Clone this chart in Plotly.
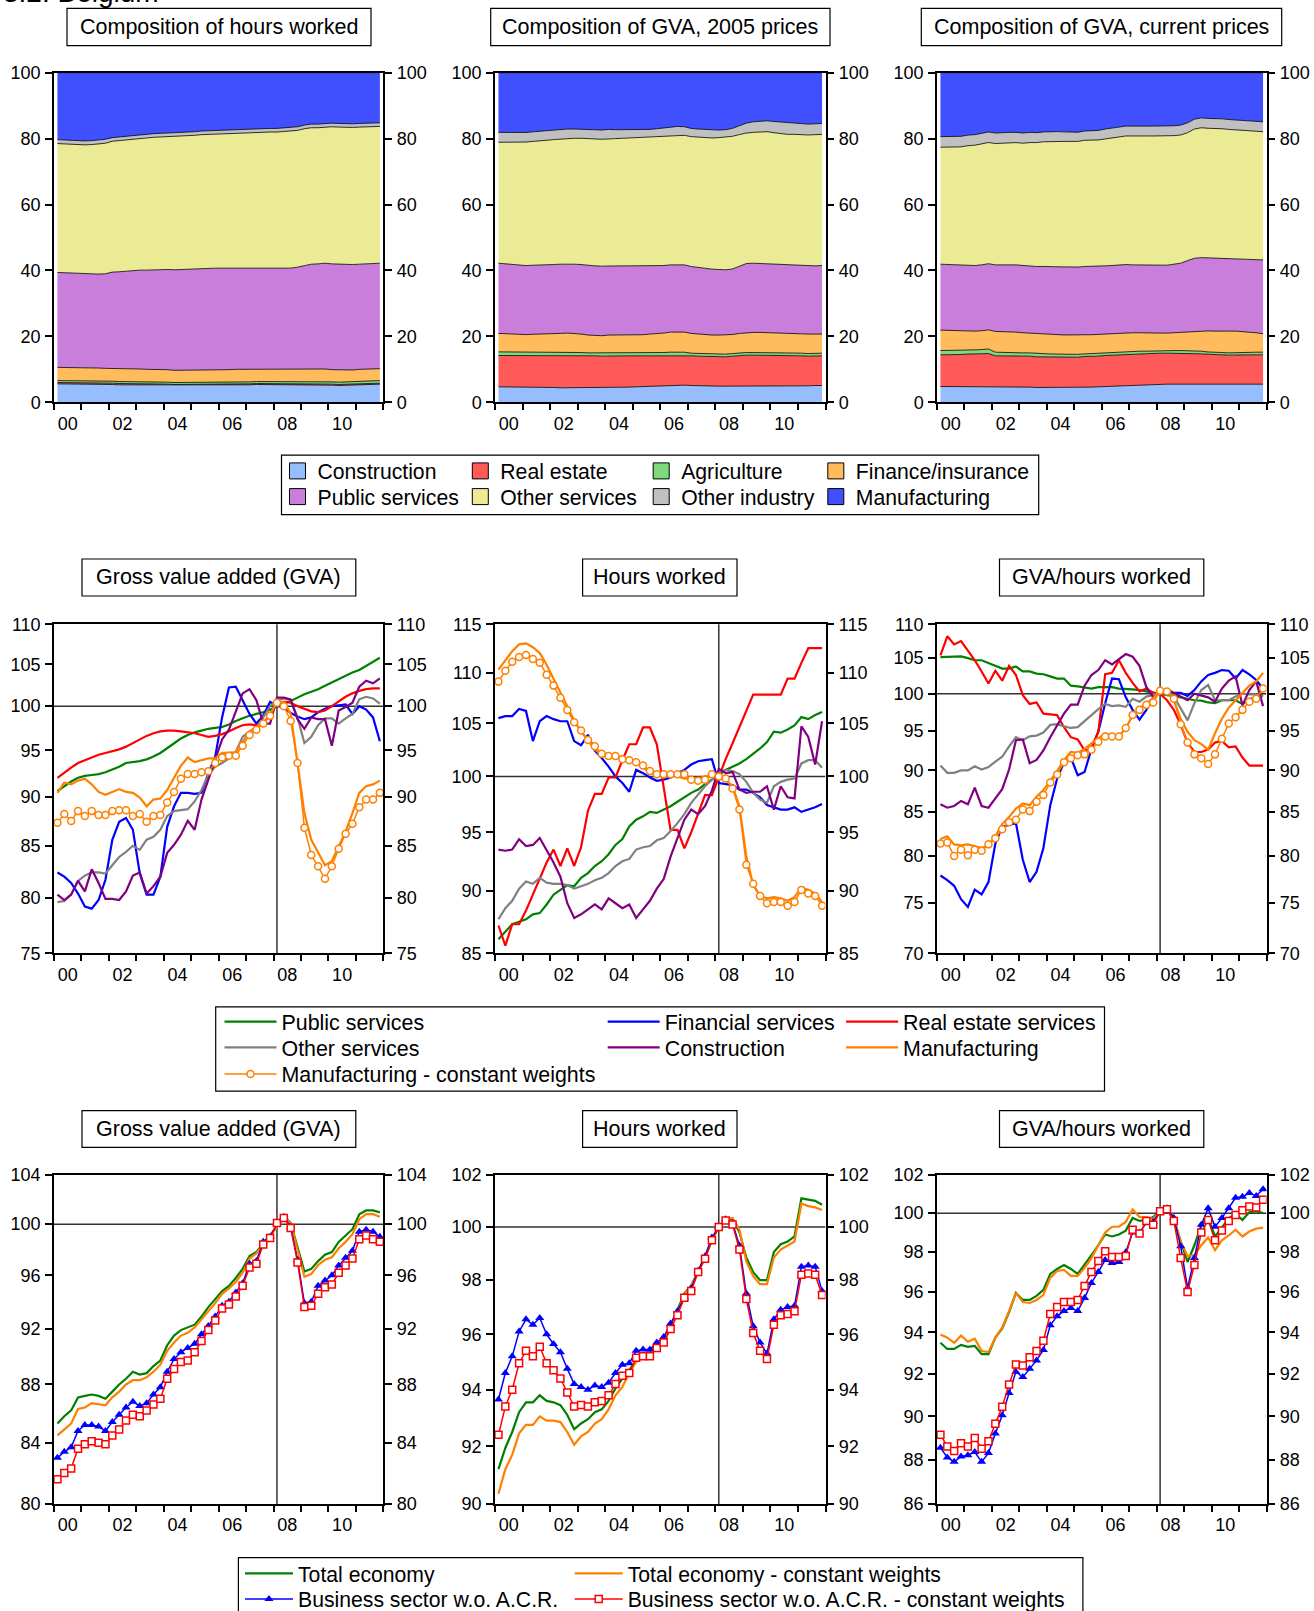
import math
import plotly.graph_objects as go

W, H = 1314, 1611
FONT = "Liberation Sans, Arial, Helvetica, sans-serif"

# ---------------------------------------------------------------- data
quarters = [f"{y}Q{q}" for y in range(2000, 2012) for q in range(1, 5)]
year_tick_labels = ["00", "02", "04", "06", "08", "10"]
year_tick_years = [2000, 2002, 2004, 2006, 2008, 2010]
BASE_QUARTER = "2008Q1"
BASE_VALUE = 100

SECTORS = ["Construction", "Real estate", "Agriculture", "Finance/insurance",
           "Public services", "Other services", "Other industry", "Manufacturing"]

# Composition of hours worked (shares, %)
hrs_construction = [5.6,5.6,5.6,5.5, 5.5,5.5,5.5,5.4, 5.4,5.3,5.3,5.3, 5.3,5.2,5.2,5.2, 5.2,5.1,5.1,5.1, 5.1,5.2,5.2,5.2,
                    5.3,5.3,5.3,5.3, 5.3,5.4,5.4,5.4, 5.4,5.4,5.4,5.4, 5.4,5.4,5.3,5.3, 5.2,5.1,5.2,5.2, 5.3,5.4,5.4,5.5]
hrs_realestate = [0.4,0.4,0.4,0.4, 0.4,0.4,0.4,0.4, 0.4,0.4,0.4,0.4, 0.4,0.4,0.4,0.4, 0.3,0.3,0.3,0.3, 0.3,0.3,0.3,0.3,
                  0.3,0.3,0.3,0.3, 0.3,0.3,0.3,0.3, 0.3,0.3,0.3,0.3, 0.3,0.3,0.3,0.3, 0.3,0.3,0.3,0.3, 0.3,0.3,0.3,0.3]
hrs_agriculture = [0.6,0.6,0.6,0.6, 0.6,0.6,0.6,0.6, 0.6,0.6,0.6,0.6, 0.6,0.6,0.6,0.6, 0.6,0.6,0.6,0.6, 0.6,0.6,0.6,0.6,
                   0.6,0.6,0.6,0.6, 0.6,0.6,0.6,0.6, 0.6,0.6,0.6,0.6, 0.7,0.7,0.7,0.7, 0.7,0.7,0.7,0.7, 0.8,0.8,0.8,0.8]
hrs_finance = [4.0,4.0,4.0,4.0, 4.0,4.0,3.9,3.9, 3.9,3.9,3.9,3.8, 3.8,3.8,3.8,3.8, 3.8,3.7,3.7,3.7, 3.7,3.7,3.7,3.7,
               3.7,3.7,3.8,3.8, 3.8,3.8,3.8,3.8, 3.8,3.8,3.8,3.8, 3.8,3.8,3.8,3.8, 3.7,3.7,3.6,3.6, 3.6,3.6,3.6,3.6]
hrs_public = [28.8,28.7,28.6,28.5, 28.4,28.4,28.5,28.7, 29.2,29.4,29.6,29.8, 30.0,30.1,30.2,30.3, 30.4,30.5,30.6,30.7,
              30.8,30.9,30.9,30.9, 30.8,30.8,30.7,30.7, 30.6,30.6,30.5,30.5, 30.4,30.5,30.6,30.9, 31.3,31.7,31.9,32.1,
              32.1,32.1,32.0,32.0, 31.9,31.9,32.0,32.0]
hrs_othserv = [39.1,39.1,39.0,39.1, 39.2,39.3,39.5,39.6, 39.7,39.8,40.0,40.0, 40.1,40.1,40.2,40.2, 40.3,40.3,40.4,40.4,
               40.5,40.5,40.6,40.6, 40.7,40.8,40.9,41.0, 41.1,41.2,41.3,41.4, 41.5,41.5,41.6,41.5, 41.5,41.4,41.3,41.3,
               41.6,41.6,41.6,41.6, 41.6,41.6,41.5,41.5]
hrs_othind = [1.2,1.2,1.2,1.2, 1.2,1.2,1.2,1.2, 1.1,1.1,1.1,1.1, 1.1,1.1,1.1,1.1, 1.1,1.1,1.1,1.1, 1.1,1.1,1.1,1.1,
              1.1,1.1,1.1,1.1, 1.1,1.1,1.1,1.1, 1.1,1.1,1.1,1.1, 1.1,1.1,1.1,1.1, 1.1,1.1,1.1,1.1, 1.1,1.1,1.1,1.1]
hrs_manuf = [20.3,20.4,20.6,20.7, 20.7,20.6,20.4,20.2, 19.7,19.5,19.1,19.0, 18.7,18.7,18.5,18.4, 18.3,18.4,18.2,18.1,
             17.9,17.7,17.6,17.6, 17.5,17.4,17.3,17.2, 17.2,17.0,17.0,16.9, 16.9,16.8,16.6,16.4, 15.9,15.6,15.6,15.4,
             15.3,15.4,15.5,15.5, 15.4,15.3,15.3,15.2]

# Composition of GVA, 2005 prices
gvr_construction = [4.7,4.7,4.7,4.7, 4.6,4.6,4.6,4.5, 4.5,4.4,4.4,4.4, 4.4,4.5,4.4,4.4, 4.5,4.5,4.6,4.6, 4.7,4.8,4.9,5.0,
                    5.1,5.2,5.2,5.2, 5.1,5.0,5.0,4.9, 4.9,4.9,4.9,5.0, 5.0,5.0,5.0,4.9, 4.9,4.9,5.0,5.0, 5.0,5.0,5.1,5.1]
gvr_realestate = [9.5,9.5,9.5,9.5, 9.5,9.6,9.6,9.6, 9.6,9.7,9.7,9.7, 9.7,9.6,9.7,9.6, 9.6,9.5,9.5,9.5, 9.4,9.3,9.3,9.2,
                  9.1,9.1,9.1,9.1, 9.0,9.0,8.9,8.9, 8.9,8.9,9.1,9.2, 9.3,9.3,9.3,9.3, 9.2,9.2,9.1,9.1, 9.1,9.0,9.0,9.0]
gvr_agriculture = [1.1,1.1,1.1,1.1, 1.0,1.0,1.0,1.0, 1.0,1.0,1.0,1.0, 1.0,0.9,0.9,0.9, 0.9,0.9,0.9,0.9, 0.9,0.9,0.9,0.9,
                   0.9,0.9,0.9,0.9, 0.8,0.8,0.8,0.8, 0.8,0.8,0.8,0.8, 0.8,0.8,0.8,0.8, 0.8,0.8,0.8,0.8, 0.8,0.8,0.8,0.8]
gvr_finance = [5.6,5.5,5.4,5.4, 5.4,5.4,5.5,5.6, 5.7,5.8,5.9,5.8, 5.6,5.4,5.3,5.3, 5.4,5.5,5.5,5.5, 5.5,5.5,5.6,5.7,
               5.9,6.1,6.2,6.1, 6.0,5.9,5.9,5.8, 5.8,5.8,5.8,5.9, 6.0,6.1,6.1,6.1, 6.1,6.1,6.0,6.0, 5.9,5.9,5.8,5.8]
gvr_public = [21.3,21.2,21.1,21.0, 20.9,20.9,20.9,21.0, 21.0,21.0,21.0,21.0, 21.1,21.1,21.1,21.1, 21.0,21.0,20.9,20.9,
              20.9,20.8,20.7,20.6, 20.5,20.4,20.4,20.4, 20.3,20.2,20.1,20.0, 19.9,19.8,19.9,20.4, 21.0,21.0,20.9,20.9,
              20.8,20.8,20.7,20.7, 20.6,20.6,20.7,20.8]
gvr_othserv = [36.7,36.9,37.1,37.3, 37.4,37.5,37.6,37.8, 37.9,38.0,38.1,38.2, 38.3,38.4,38.5,38.5, 38.6,38.6,38.7,38.8,
               38.9,39.0,39.0,39.1, 39.1,39.2,39.2,39.3, 39.4,39.5,39.7,39.8, 40.0,40.2,40.3,40.0, 39.6,39.7,39.9,40.1,
               40.0,39.8,39.7,39.7, 39.7,39.8,39.8,39.8]
gvr_othind = [3.0,3.0,2.9,2.9, 2.9,2.9,2.8,2.8, 2.8,2.8,2.8,2.8, 2.8,2.8,2.8,2.8, 2.8,2.7,2.6,2.5, 2.3,2.3,2.4,2.5,
              2.6,2.7,2.7,2.6, 2.5,2.5,2.4,2.4, 2.3,2.3,2.4,2.7, 3.0,3.2,3.3,3.3, 3.4,3.5,3.5,3.4, 3.4,3.3,3.3,3.3]
gvr_manuf = [18.1,18.1,18.2,18.1, 18.1,17.9,17.7,17.7, 17.5,17.3,17.1,17.1, 17.1,17.3,17.3,17.4, 17.2,17.3,17.3,17.3,
             17.4,17.4,17.2,17.0, 16.8,16.4,16.3,16.4, 16.9,17.1,17.2,17.4, 17.4,17.3,16.9,16.1, 15.3,14.9,14.7,14.6,
             14.8,15.0,15.2,15.3, 15.5,15.6,15.5,15.4]

# Composition of GVA, current prices
gvc_construction = [4.8,4.8,4.8,4.8, 4.8,4.8,4.7,4.7, 4.6,4.6,4.6,4.6, 4.6,4.6,4.5,4.5, 4.5,4.5,4.5,4.5, 4.5,4.6,4.6,4.7,
                    4.8,4.9,5.0,5.1, 5.1,5.2,5.3,5.4, 5.5,5.5,5.5,5.5, 5.5,5.5,5.4,5.4, 5.3,5.3,5.3,5.4, 5.4,5.5,5.5,5.5]
gvc_realestate = [9.6,9.6,9.7,9.7, 9.8,9.9,10.0,10.1, 9.5,9.5,9.5,9.5, 9.4,9.4,9.3,9.3, 9.2,9.2,9.2,9.2, 9.2,9.3,9.3,9.3,
                  9.4,9.4,9.5,9.5, 9.5,9.5,9.4,9.4, 9.4,9.4,9.4,9.4, 9.4,9.3,9.3,9.2, 9.1,9.1,9.0,9.0, 9.0,8.9,8.9,8.9]
gvc_agriculture = [1.3,1.3,1.2,1.2, 1.2,1.2,1.3,1.4, 1.1,1.0,1.0,1.0, 1.0,1.0,1.0,1.0, 1.0,0.9,0.9,0.9, 0.9,0.8,0.8,0.8,
                   0.8,0.8,0.8,0.8, 0.8,0.8,0.8,0.8, 0.8,0.8,0.8,0.8, 0.8,0.8,0.8,0.7, 0.7,0.7,0.7,0.7, 0.8,0.8,0.8,0.8]
gvc_finance = [6.2,6.1,6.0,5.9, 5.8,5.7,5.7,5.8, 6.3,6.4,6.3,6.2, 6.1,6.0,5.9,5.9, 5.9,5.9,5.9,5.9, 5.8,5.8,5.8,5.8,
               5.8,5.8,5.8,5.8, 5.7,5.6,5.5,5.4, 5.3,5.3,5.4,5.6, 5.8,6.0,6.2,6.4, 6.5,6.6,6.6,6.5, 6.3,6.1,5.9,5.6]
gvc_public = [20.0,20.0,19.9,19.9, 19.9,19.9,20.0,20.1, 20.2,20.3,20.3,20.4, 20.4,20.5,20.5,20.6, 20.6,20.7,20.7,20.7,
              20.7,20.7,20.7,20.6, 20.6,20.6,20.6,20.6, 20.6,20.6,20.5,20.5, 20.5,20.6,20.8,20.9, 21.5,22.1,22.2,22.2,
              22.2,22.1,22.0,22.0, 22.0,22.1,22.2,22.4]
gvc_othserv = [35.5,35.6,35.8,36.0, 36.2,36.5,36.7,36.8, 36.8,36.9,37.0,37.1, 37.1,37.3,37.6,37.9, 38.1,38.1,38.2,38.2,
               38.2,38.3,38.3,38.4, 38.5,38.7,38.8,39.0, 39.1,39.2,39.3,39.3, 39.3,39.2,39.0,38.9, 38.8,39.2,39.4,39.4,
               39.3,39.2,39.2,39.1, 39.0,39.0,38.9,38.9]
gvc_othind = [3.2,3.2,3.2,3.2, 3.2,3.2,3.2,3.2, 3.2,3.2,3.2,3.1, 3.1,3.1,3.0,3.0, 3.0,3.0,2.9,2.9, 2.8,2.8,2.9,2.9,
              3.0,3.0,3.0,3.0, 3.0,3.0,3.0,3.0, 3.0,3.0,3.0,3.0, 3.0,3.0,3.0,3.0, 3.0,3.0,3.0,3.0, 3.0,3.0,3.0,3.0]
gvc_manuf = [19.4,19.4,19.4,19.3, 18.9,18.8,18.4,18.0, 18.3,18.1,18.1,18.1, 18.3,18.1,18.2,18.0, 17.9,17.9,18.0,18.0,
             18.1,17.7,17.6,17.5, 17.1,16.8,16.5,16.2, 16.2,16.1,16.2,16.2, 16.2,16.2,16.1,15.9, 15.2,14.1,13.7,13.9,
             13.9,14.0,14.2,14.3, 14.5,14.6,14.8,14.9]

# Sector indices, 2008 = 100 (log scale)
SECTOR_SERIES = ["Public services", "Financial services", "Real estate services", "Other services",
                 "Construction", "Manufacturing", "Manufacturing - constant weights"]
gva_public = [90.6,91.1,91.6,92.0, 92.2,92.3,92.4,92.6, 92.9,93.2,93.6,93.7, 93.8,94.0,94.3,94.7, 95.2,95.8,96.3,96.7,
              97.0,97.2,97.4,97.5, 97.6,97.9,98.3,98.6, 98.9,99.1,99.3,99.6, 100.0,100.3,100.6,101.0, 101.4,101.7,102.0,102.4,
              102.8,103.2,103.6,104.0, 104.3,104.8,105.4,105.8]
gva_financial = [82.4,82.0,81.4,80.4, 79.2,79.0,79.8,81.7, 85.6,87.4,87.8,86.6, 82.3,80.3,80.3,82.0, 86.9,89.0,90.4,90.4,
                 90.3,90.4,92.5,94.3, 98.7,102.2,102.3,100.7, 99.1,98.0,98.9,100.5, 100.0,99.9,99.2,98.8, 98.5,98.7,99.3,99.7,
                 100.0,100.1,100.2,99.1, 100.0,99.6,98.7,96.0]
gva_realestate = [92.0,92.6,93.1,93.6, 93.9,94.2,94.5,94.7, 94.9,95.1,95.4,95.8, 96.2,96.6,96.9,97.1, 97.2,97.2,97.1,97.0,
                  96.9,96.7,96.5,96.6, 96.8,97.1,97.5,97.8, 97.9,97.8,98.0,99.0, 100.3,100.5,100.4,100.0, 99.7,99.4,99.3,99.5,
                  100.0,100.6,101.1,101.5, 101.8,102.0,102.1,102.1]
gva_othserv = [79.6,79.7,80.3,81.6, 82.1,82.4,82.4,82.3, 83.1,83.9,84.4,85.0, 84.6,85.6,85.9,86.6, 88.0,88.5,88.6,88.7,
               89.5,90.7,92.3,93.2, 93.6,94.1,94.8,96.5, 97.1,97.4,98.7,100.0, 100.7,100.9,100.7,98.7, 95.8,96.5,97.8,98.6,
               98.6,98.0,98.6,99.1, 100.8,101.1,100.9,100.3]
gva_construction = [80.3,79.8,80.3,81.6, 80.6,82.7,81.4,79.9, 79.9,79.8,80.6,82.1, 82.4,80.4,81.1,82.0, 84.3,85.1,86.1,87.5,
                    86.6,89.7,91.8,94.1, 96.2,97.3,99.5,101.5, 102.0,100.7,98.0,98.0, 101.0,101.0,100.8,98.5, 97.4,98.7,98.5,98.5,
                    95.5,99.5,99.9,100.4, 102.3,103.0,102.7,103.3]
gva_manuf = [90.4,91.5,91.3,91.7, 91.9,91.3,90.5,90.2, 90.5,90.8,90.5,90.4, 89.9,89.0,89.7,89.8, 90.7,92.0,93.3,94.2,
             93.7,93.9,94.1,94.1, 94.7,94.7,94.8,95.9, 97.1,97.6,98.1,99.1, 100.5,100.5,99.1,93.6, 88.3,85.6,84.3,83.1,
             83.5,84.9,86.4,88.3, 90.4,91.1,91.3,91.7]
gva_manuf_cw = [87.3,88.2,87.5,88.5, 88.0,88.5,88.1,88.1, 88.5,88.6,88.6,88.0, 88.2,87.4,88.0,88.1, 89.4,90.5,91.9,92.4,
                92.4,92.6,92.7,93.6, 94.2,94.4,94.4,95.5, 96.7,97.3,98.0,98.9, 100.4,100.0,98.3,93.6, 86.8,84.1,83.0,81.8,
                83.0,84.7,86.2,87.2, 88.9,89.7,89.7,90.4]

hrs_idx_public = [86.1,86.7,87.3,87.5, 87.7,88.1,88.2,88.9, 89.7,90.1,90.5,90.4, 91.1,91.5,92.1,92.5, 93.1,93.9,94.4,95.5,
                  96.1,96.4,96.8,96.7, 97.0,97.3,97.7,98.1, 98.5,98.8,99.3,99.7, 100.1,100.6,100.9,101.2, 101.6,102.1,102.6,103.2,
                  104.2,104.1,104.4,104.8, 105.6,105.4,105.8,106.1]
hrs_idx_financial = [105.5,105.7,105.7,106.4, 106.2,103.3,105.2,105.7, 105.4,105.2,105.2,103.3, 102.9,103.9,102.4,101.7,
                     100.9,100.0,99.4,98.6, 100.6,100.3,99.9,99.6, 99.7,99.9,100.3,100.6, 101.1,101.4,101.5,101.6,
                     99.4,99.3,99.2,98.8, 98.8,98.5,98.1,97.4, 97.2,97.0,97.0,97.2, 96.8,97.0,97.2,97.5]
hrs_idx_realestate = [87.2,85.6,87.3,87.3, 88.4,89.7,91.1,92.4, 93.5,92.1,93.6,92.1, 93.7,96.9,98.4,98.4, 99.9,99.9,101.5,103.0,
                      103.0,104.6,104.6,103.0, 99.0,95.2,95.2,93.6, 95.0,96.6,98.3,98.3, 100.0,101.6,103.1,104.7,
                      106.2,107.8,107.8,107.8, 107.8,107.8,109.4,109.4, 111.0,112.5,112.5,112.5]
hrs_idx_othserv = [87.7,88.6,89.2,90.2, 90.8,90.6,91.1,90.7, 90.6,90.6,90.5,90.2, 90.4,90.6,90.9,91.1, 91.5,92.1,92.5,92.7,
                   93.5,93.7,93.8,94.3, 94.5,95.1,95.8,96.6, 97.6,98.4,99.1,99.7, 100.4,100.6,100.5,100.2, 99.5,98.5,97.9,97.6,
                   99.1,99.5,99.7,99.8, 101.2,101.5,101.5,100.8]
hrs_idx_construction = [93.5,93.4,93.5,94.4, 93.8,93.9,94.5,93.5, 92.4,91.2,89.0,87.8, 88.1,88.5,88.9,88.5, 89.4,89.0,88.6,88.9,
                        87.8,88.5,89.2,90.2, 91.0,92.9,94.4,96.1, 97.0,96.6,97.3,98.7, 100.7,100.3,100.4,98.8, 98.5,98.6,98.6,99.1,
                        97.0,99.1,98.1,98.0, 104.7,103.7,101.1,105.2]
hrs_idx_manuf = [110.3,111.3,112.2,112.9, 113.0,112.6,112.0,110.8, 109.4,108.0,106.6,105.3, 104.2,103.3,102.5,102.0,
                 102.0,101.9,101.7,101.6, 101.3,100.8,100.4,100.3, 100.2,100.2,100.0,99.8, 99.8,99.8,100.0,100.1,
                 100.0,99.7,99.1,97.3, 92.9,90.5,89.6,89.4, 89.5,89.4,89.2,89.5, 90.3,90.1,89.8,89.1]
hrs_idx_manuf_cw = [109.1,110.2,111.1,111.6, 111.8,111.4,111.0,109.8, 108.7,107.5,106.3,105.1, 104.3,103.4,102.8,102.1,
                    101.9,101.9,101.6,101.5, 101.3,101.0,100.5,100.2, 100.2,100.2,100.2,100.2, 99.7,99.6,99.7,100.2,
                    100.0,99.8,98.9,97.0, 92.2,90.6,89.6,89.0, 89.1,89.1,88.8,89.1, 90.1,89.8,89.6,88.8]

prd_public = [105.15,105.15,105.15,105.25, 105.0,104.7,104.7,104.3, 103.8,103.5,103.5,103.8, 103.1,103.1,102.8,102.7,
              102.4,102.1,102.1,101.1, 101.0,100.8,100.7,100.9, 100.9,100.9,100.7,100.7, 100.6,100.5,100.3,100.1,
              99.9,99.8,99.7,99.5, 99.3,99.1,99.05,98.8, 98.7,99.1,99.1,99.1, 98.6,99.2,99.6,99.8]
prd_financial = [77.9,77.4,76.8,75.4, 74.6,76.4,75.9,77.2, 81.4,83.3,83.5,83.7, 79.6,77.2,78.3,80.9, 85.8,89.0,91.0,91.6,
                 89.4,89.8,92.7,94.9, 98.7,102.1,102.0,99.5, 97.8,96.5,97.8,99.5, 100.3,100.4,100.1,100.1, 99.7,100.5,101.7,102.6,
                 102.9,103.3,103.2,102.1, 103.3,102.7,101.9,100.7]
prd_realestate = [105.4,108.2,107.0,107.5, 106.1,104.7,103.1,101.4, 103.2,101.8,103.9,102.6, 99.8,98.6,98.8,97.3,
                  97.2,97.1,95.5,94.2, 93.9,92.5,92.8,94.9, 102.7,102.9,104.7,102.9, 101.5,100.3,100.7,100.1,
                  100.0,99.1,97.8,95.8, 93.5,92.3,92.3,92.6, 93.5,93.7,92.9,93.0, 91.6,90.6,90.6,90.6]
prd_othserv = [90.6,89.7,89.7,90.0, 90.0,90.5,90.1,90.4, 91.1,91.7,93.0,94.2, 93.8,94.3,94.4,94.8, 95.8,95.9,95.6,95.4,
               95.5,96.3,97.2,97.9, 98.6,98.3,98.4,98.2, 99.3,98.9,99.6,99.8, 100.1,100.6,99.6,98.0, 96.4,98.7,100.5,101.2,
               99.1,99.1,99.1,99.6, 100.0,99.9,99.9,99.6]
prd_construction = [85.9,85.5,85.7,86.3, 85.9,87.9,85.7,85.5, 86.6,87.7,90.1,93.8, 93.9,90.9,91.3,92.5, 94.2,95.8,97.3,98.5,
                    98.5,101.1,102.6,103.3, 104.7,104.1,104.9,105.6, 105.2,103.9,100.9,99.5, 100.1,100.6,100.1,99.6,
                    99.1,100.0,99.8,99.5, 98.9,100.7,101.8,102.4, 98.4,100.5,101.7,98.3]
prd_manuf = [81.9,82.2,81.3,81.2, 81.3,81.1,80.9,81.2, 82.2,83.6,84.4,85.4, 86.0,85.8,86.8,87.6, 88.8,89.9,91.3,92.3,
             92.2,92.7,93.4,94.0, 94.7,94.4,94.4,95.3, 97.1,98.0,98.7,99.4, 100.5,100.4,99.1,96.6, 94.9,93.8,93.3,92.6,
             94.7,96.6,98.1,99.1, 100.1,101.1,101.7,102.9]
prd_manuf_cw = [81.4,81.5,80.0,80.7, 80.1,80.7,80.6,81.3, 82.0,83.0,83.8,84.1, 85.3,85.1,86.2,87.0, 88.5,89.5,91.0,91.5,
                91.9,92.0,92.6,93.6, 94.3,94.3,94.3,95.4, 97.1,97.8,98.5,98.8, 100.4,100.3,99.3,95.9, 93.5,92.0,91.5,90.8,
                92.0,94.0,96.0,96.8, 97.8,98.9,99.3,100.7]

# Aggregates, 2008 = 100 (log scale)
AGG_SERIES = ["Total economy", "Total economy - constant weights",
              "Business sector w.o. A.C.R.", "Business sector w.o. A.C.R. - constant weights"]
tot_gva = [85.3,85.8,86.2,87.1, 87.2,87.3,87.2,87.0, 87.5,88.0,88.4,88.9, 88.7,88.8,89.3,89.7, 90.8,91.5,91.9,92.1,
           92.3,92.9,93.6,94.2, 94.8,95.2,95.8,96.5, 97.5,97.8,98.5,99.1, 99.9,100.6,100.1,98.1, 96.3,96.5,97.1,97.6,
           97.8,98.6,99.1,99.6, 100.8,101.1,101.1,100.95]
tot_cw_gva = [84.5,84.9,85.3,86.3, 86.4,86.7,86.6,86.55, 87.1,87.5,88.0,88.3, 88.3,88.5,88.9,89.4, 90.4,91.0,91.5,91.7,
              92.1,92.7,93.3,93.9, 94.6,95.0,95.5,96.2, 97.3,97.7,98.4,99.0, 99.8,100.5,100.1,97.9, 95.9,96.1,96.8,97.2,
              97.4,98.1,98.6,99.2, 100.4,100.8,100.8,100.6]
bus_gva = [83.0,83.4,83.7,84.8, 85.2,85.2,85.1,84.8, 85.4,85.9,86.4,86.8, 86.5,86.7,87.3,87.8, 88.9,89.8,90.3,90.6,
           90.9,91.6,92.2,92.9, 93.7,94.0,94.7,95.4, 96.9,97.1,98.6,99.0, 100.0,100.6,99.8,97.2, 93.9,94.0,95.2,95.6,
           96.0,96.75,97.35,97.9, 99.4,99.55,99.4,99.0]
bus_cw_gva = [81.6,82.0,82.3,83.6, 83.9,84.1,84.0,83.9, 84.5,84.9,85.5,85.9, 85.8,86.2,86.6,87.0, 88.4,89.1,89.6,89.7,
              90.3,91.1,91.9,92.6, 93.5,93.8,94.4,95.2, 96.6,96.9,98.4,98.9, 100.1,100.5,99.7,97.0, 93.6,93.7,94.6,95.1,
              95.3,96.2,96.75,97.3, 98.8,99.1,98.8,98.6]
tot_hrs = [91.2,91.94,92.5,93.2, 93.55,93.55,93.8,93.6, 93.55,93.45,93.1,92.6, 92.8,92.95,93.2,93.3, 93.6,94.05,94.4,94.7,
           95.05,95.3,95.35,95.6, 95.8,96.3,96.9,97.5, 97.8,98.3,98.85,99.5, 100.0,100.3,100.3,99.8, 98.85,98.3,98.0,98.0,
           99.05,99.35,99.45,99.65, 101.1,101.05,101.0,100.85]
tot_cw_hrs = [90.35,91.2,91.7,92.45, 92.75,92.75,93.05,92.9, 92.9,92.85,92.5,92.05, 92.35,92.5,92.8,92.95, 93.3,93.8,94.1,94.6,
              95.0,95.2,95.3,95.5, 95.7,96.25,96.8,97.45, 97.8,98.3,98.85,99.5, 100.0,100.3,100.35,99.9, 98.7,98.15,97.85,97.85,
              98.85,99.15,99.3,99.45, 100.9,100.8,100.75,100.65]
bus_hrs = [93.65,94.6,95.2,96.1, 96.55,96.35,96.6,96.0, 95.65,95.35,94.75,94.2, 94.1,94.0,94.15,94.1, 94.25,94.6,94.9,94.95,
           95.4,95.45,95.45,95.7, 95.9,96.4,96.85,97.35, 97.7,98.35,98.9,99.6, 100.0,100.3,100.15,99.3, 97.5,96.3,95.7,95.3,
           96.55,96.9,97.0,97.05, 98.5,98.55,98.5,97.6]
bus_cw_hrs = [92.4,93.4,94.0,94.95, 95.4,95.2,95.55,94.95, 94.7,94.4,93.9,93.4, 93.45,93.4,93.55,93.6, 93.8,94.2,94.5,94.6,
              95.15,95.2,95.2,95.5, 95.7,96.2,96.7,97.35, 97.6,98.3,98.8,99.5, 100.0,100.25,100.1,99.15, 97.3,96.05,95.4,95.1,
              96.35,96.7,96.75,96.85, 98.2,98.25,98.2,97.45]
tot_prd = [93.5,93.2,93.2,93.4, 93.3,93.35,92.95,92.95, 93.75,94.2,95.0,95.95, 95.6,95.6,95.8,96.1, 96.9,97.15,97.35,97.15,
           96.9,97.35,97.85,98.35, 98.9,98.8,98.9,99.1, 99.75,99.6,99.65,99.8, 100.1,100.2,99.65,98.55, 97.5,98.35,99.4,99.75,
           98.8,99.25,99.75,99.95, 99.65,100.05,100.1,100.0]
tot_cw_prd = [93.9,93.75,93.5,93.85, 93.55,93.7,93.1,93.05, 93.75,94.25,95.05,95.95, 95.5,95.45,95.6,95.85, 96.7,97.05,97.1,96.8,
              96.8,97.2,97.7,98.35, 99.0,99.3,99.3,99.55, 100.2,99.8,99.8,99.7, 100.1,100.2,99.8,98.55, 97.8,97.85,98.35,98.75,
              98.1,98.6,98.85,99.15, 98.8,99.05,99.2,99.25]
bus_prd = [88.55,88.1,87.9,88.15, 88.2,88.35,87.9,88.3, 89.2,90.05,91.1,92.1, 91.85,92.25,92.65,93.15, 94.35,94.8,95.05,95.2,
           95.05,95.7,96.45,97.0, 97.6,97.45,97.5,98.0, 99.0,99.0,99.5,99.55, 100.1,100.25,99.75,98.3, 96.2,97.7,99.4,100.25,
           99.3,99.75,100.25,100.8, 100.85,101.05,100.9,101.25]
bus_cw_prd = [89.15,88.6,88.4,88.75, 88.6,89.0,88.5,88.85, 89.65,90.45,91.5,92.45, 92.4,92.8,93.1,93.6, 94.9,95.25,95.5,95.5,
              95.6,96.3,97.0,97.55, 98.05,97.75,97.75,97.8, 99.15,98.95,99.6,99.4, 100.1,100.2,99.6,97.7, 96.0,97.35,99.0,99.65,
              98.6,99.1,99.6,99.9, 100.15,100.35,100.3,100.7]

TITLES = ["Composition of hours worked", "Composition of GVA, 2005 prices", "Composition of GVA, current prices",
          "Gross value added (GVA)", "Hours worked", "GVA/hours worked",
          "Gross value added (GVA)", "Hours worked", "GVA/hours worked"]

# y-axis ranges and tick values per panel
Y_RANGES = [(0, 100), (0, 100), (0, 100), (75, 110), (85, 115), (70, 110), (80, 104), (90, 102), (86, 102)]
Y_TICKS = [[0, 20, 40, 60, 80, 100]] * 3 + [
    [75, 80, 85, 90, 95, 100, 105, 110], [85, 90, 95, 100, 105, 110, 115], [70, 75, 80, 85, 90, 95, 100, 105, 110],
    [80, 84, 88, 92, 96, 100, 104], [90, 92, 94, 96, 98, 100, 102], [86, 88, 90, 92, 94, 96, 98, 100, 102]]

# ---------------------------------------------------------------- styles
SECTOR_COLORS = ["#96BEFF", "#FF5A5A", "#7ED87E", "#FFBB5C", "#C87EDA", "#EBEB96", "#C0C0C0", "#4050FF"]
SERIES_COLORS = ["#008000", "#0000FF", "#FF0000", "#808080", "#800080", "#FF8000", "#FF8000"]
AGG_COLORS = ["#008000", "#FF8000", "#0000FF", "#FF0000"]

COLS = [(54.0, 383.3), (495.0, 825.5), (937.0, 1266.5)]
ROWS = [(72.7, 402.3), (624.3, 953.3), (1175.0, 1504.0)]
TITLE_BOX_X = [[(67.0, 371.0), (490.7, 830.0), (921.3, 1281.7)],
               [(82.0, 355.8), (582.6, 737.0), (999.5, 1203.8)],
               [(82.0, 355.8), (582.6, 737.0), (999.5, 1203.8)]]
TITLE_BOX_Y = [(8.3, 45.7), (559.0, 596.0), (1110.6, 1147.3)]


def qx(label):
    return int(label[:4]) + (int(label[-1]) - 0.5) / 4


def fx(p):
    return p / W


def fy(p):
    return 1 - p / H


xq = [qx(q) for q in quarters]
base_x = qx(BASE_QUARTER)


def xn(k):
    return "x" if k == 0 else f"x{k+1}"


def yn(k):
    return "y" if k == 0 else f"y{k+1}"


def legid(n):
    return "legend" if n == 0 else f"legend{n+1}"


fig = go.Figure()

# ---------------- stacked area panels
area_sets = [
    [hrs_construction, hrs_realestate, hrs_agriculture, hrs_finance, hrs_public, hrs_othserv, hrs_othind, hrs_manuf],
    [gvr_construction, gvr_realestate, gvr_agriculture, gvr_finance, gvr_public, gvr_othserv, gvr_othind, gvr_manuf],
    [gvc_construction, gvc_realestate, gvc_agriculture, gvc_finance, gvc_public, gvc_othserv, gvc_othind, gvc_manuf],
]
for k, shares in enumerate(area_sets):
    for j, vals in enumerate(shares):
        fig.add_trace(go.Scatter(
            x=xq, y=vals, name=SECTORS[j], mode="lines", stackgroup=f"s{k}",
            groupnorm="percent" if j == 0 else None,
            line=dict(color="black", width=0.8), fillcolor=SECTOR_COLORS[j],
            xaxis=xn(k), yaxis=yn(k), showlegend=False, hoverinfo="skip"))

# legend entries (square swatches) for the sectors
for j, name in enumerate(SECTORS):
    fig.add_trace(go.Scatter(
        x=[None], y=[None], mode="markers", name=name,
        marker=dict(symbol="square", size=16, color=SECTOR_COLORS[j], line=dict(color="black", width=1)),
        xaxis="x", yaxis="y", legend=legid(j), showlegend=True, hoverinfo="skip"))

# ---------------- sector index panels
sector_panels = [
    [gva_public, hrs_idx_public, prd_public],
    [gva_financial, hrs_idx_financial, prd_financial],
    [gva_realestate, hrs_idx_realestate, prd_realestate],
    [gva_othserv, hrs_idx_othserv, prd_othserv],
    [gva_construction, hrs_idx_construction, prd_construction],
    [gva_manuf, hrs_idx_manuf, prd_manuf],
    [gva_manuf_cw, hrs_idx_manuf_cw, prd_manuf_cw],
]
for j, panels in enumerate(sector_panels):
    for p, vals in enumerate(panels):
        k = 3 + p
        tr = dict(x=xq, y=vals, name=SECTOR_SERIES[j], xaxis=xn(k), yaxis=yn(k),
                  line=dict(color=SERIES_COLORS[j], width=2.2), legend=legid(8 + j),
                  showlegend=(p == 0), hoverinfo="skip")
        if j == 6:
            tr["mode"] = "lines+markers"
            tr["line"] = dict(color=SERIES_COLORS[j], width=1.5)
            tr["marker"] = dict(symbol="circle", size=7, color="white",
                                line=dict(color=SERIES_COLORS[j], width=1.5))
        else:
            tr["mode"] = "lines"
        fig.add_trace(go.Scatter(**tr))

# ---------------- aggregate panels
agg_panels = [
    [tot_gva, tot_hrs, tot_prd],
    [tot_cw_gva, tot_cw_hrs, tot_cw_prd],
    [bus_gva, bus_hrs, bus_prd],
    [bus_cw_gva, bus_cw_hrs, bus_cw_prd],
]
for j, panels in enumerate(agg_panels):
    for p, vals in enumerate(panels):
        k = 6 + p
        tr = dict(x=xq, y=vals, name=AGG_SERIES[j], xaxis=xn(k), yaxis=yn(k),
                  legend=legid(15 + j), showlegend=(p == 0), hoverinfo="skip")
        if j < 2:
            tr["mode"] = "lines"
            tr["line"] = dict(color=AGG_COLORS[j], width=2.2)
        elif j == 2:
            tr["mode"] = "lines+markers"
            tr["line"] = dict(color=AGG_COLORS[j], width=1.5)
            tr["marker"] = dict(symbol="triangle-up", size=8, color=AGG_COLORS[j])
        else:
            tr["mode"] = "lines+markers"
            tr["line"] = dict(color=AGG_COLORS[j], width=1.5)
            tr["marker"] = dict(symbol="square", size=7, color="white",
                                line=dict(color=AGG_COLORS[j], width=1.5))
        fig.add_trace(go.Scatter(**tr))

# empty traces so that every right-hand (mirrored) value axis is rendered
for k in range(9):
    fig.add_trace(go.Scatter(x=[None], y=[None], mode="lines", xaxis=xn(k), yaxis=f"y{k+10}",
                             showlegend=False, hoverinfo="skip"))

# ---------------- axes
layout = {}
tickfont = dict(family=FONT, size=18, color="black")
shapes = []
annotations = []
for k in range(9):
    r, c = divmod(k, 3)
    x0p, x1p = COLS[c]
    y0p, y1p = ROWS[r]
    lo, hi = Y_RANGES[k]
    is_log = r > 0
    yrange = [math.log10(lo), math.log10(hi)] if is_log else [lo, hi]
    xkey = "xaxis" if k == 0 else f"xaxis{k+1}"
    ykey = "yaxis" if k == 0 else f"yaxis{k+1}"
    layout[xkey] = dict(
        domain=[fx(x0p), fx(x1p)], range=[2000, 2012], anchor=yn(k),
        tickmode="array", tickvals=[yv + 0.5 for yv in year_tick_years], ticktext=year_tick_labels,
        ticks="", showline=True, mirror=True, linecolor="black", linewidth=1.5,
        showgrid=False, zeroline=False, tickfont=tickfont, ticklabelstandoff=4,
        minor=dict(tickmode="array", tickvals=list(range(2000, 2013)), ticks="outside",
                   ticklen=6, tickwidth=1.5, tickcolor="black", showgrid=False),
        fixedrange=True)
    yaxis_common = dict(
        range=yrange, type="log" if is_log else "linear", anchor=xn(k),
        tickmode="array", tickvals=Y_TICKS[k], ticktext=[str(v) for v in Y_TICKS[k]],
        ticks="outside", ticklen=7, tickwidth=1.5, tickcolor="black",
        showline=True, linecolor="black", linewidth=1.5, autorange=False,
        showgrid=False, zeroline=False, tickfont=tickfont, ticklabelstandoff=1, fixedrange=True)
    layout[ykey] = dict(domain=[fy(y1p), fy(y0p)], side="left", **yaxis_common)
    layout[f"yaxis{k+10}"] = dict(overlaying=yn(k), side="right", **yaxis_common)

    if r > 0:
        shapes.append(dict(type="line", xref=xn(k), yref=yn(k), x0=2000, x1=2012, y0=BASE_VALUE, y1=BASE_VALUE,
                           line=dict(color="#333333", width=1.5), layer="below"))
        shapes.append(dict(type="line", xref=xn(k), yref=f"{yn(k)} domain", x0=base_x, x1=base_x, y0=0, y1=1,
                           line=dict(color="#333333", width=1.5), layer="below"))

    # title boxes
    bx0, bx1 = TITLE_BOX_X[r][c]
    by0, by1 = TITLE_BOX_Y[r]
    shapes.append(dict(type="rect", xref="paper", yref="paper", x0=fx(bx0), x1=fx(bx1), y0=fy(by1), y1=fy(by0),
                       line=dict(color="black", width=1.2), fillcolor="rgba(0,0,0,0)"))
    annotations.append(dict(text=TITLES[k], xref="paper", yref="paper", x=fx((bx0 + bx1) / 2),
                            y=fy((by0 + by1) / 2), xanchor="center", yanchor="middle", showarrow=False,
                            font=dict(family=FONT, size=21.5, color="black")))

# page header (cut at the top edge, as in the source page)
annotations.append(dict(text="3.2. Belgium", xref="paper", yref="paper", x=fx(1), y=fy(-8),
                        xanchor="left", yanchor="middle", showarrow=False,
                        font=dict(family=FONT, size=28, color="black")))

# legend frames
LEGEND_FRAMES = [(281.5, 455.1, 1038.7, 514.7), (215.7, 1006.9, 1104.5, 1091.1), (238.4, 1557.6, 1082.9, 1630.0)]
for (lx0, ly0, lx1, ly1) in LEGEND_FRAMES:
    shapes.append(dict(type="rect", xref="paper", yref="paper", x0=fx(lx0), x1=fx(lx1), y0=fy(ly1), y1=fy(ly0),
                       line=dict(color="black", width=1.2), fillcolor="rgba(0,0,0,0)"))

# legend item placement (text start x, row centre y, symbol width, font size)
LEG1_TX = [317.5, 500.3, 681.2, 855.8]
LEG1_RY = [471.6, 497.3]
LEG2_TX = [281.5, 664.7, 903.1]
LEG2_RY = [1022.3, 1048.0, 1074.7]
LEG3_TX = [298.0, 627.7]
LEG3_RY = [1574.0, 1599.7]

item_places = []
for j in range(8):
    item_places.append((LEG1_TX[j % 4], LEG1_RY[j // 4], 30, 21.2))
for j, (rr, cc) in enumerate([(0, 0), (0, 1), (0, 2), (1, 0), (1, 1), (1, 2), (2, 0)]):
    item_places.append((LEG2_TX[cc], LEG2_RY[rr], 52, 21.4))
for j, (rr, cc) in enumerate([(0, 0), (0, 1), (1, 0), (1, 1)]):
    item_places.append((LEG3_TX[cc], LEG3_RY[rr], 48, 21.2))

for n, (tx, ry, iw, fs) in enumerate(item_places):
    xpx = tx - (iw + 10)
    ypx = ry - (5 + (fs * 1.3 + 3) / 2) - 0.033 * fs
    layout[legid(n)] = dict(
        x=fx(xpx), y=fy(ypx), xanchor="left", yanchor="top", xref="paper", yref="paper",
        orientation="v", bgcolor="rgba(0,0,0,0)", borderwidth=0, itemwidth=iw,
        itemsizing="trace", itemclick=False, itemdoubleclick=False, tracegroupgap=0,
        font=dict(family=FONT, size=fs, color="black"))

fig.update_layout(
    width=W, height=H,
    margin=dict(l=0, r=0, t=0, b=0, autoexpand=False),
    paper_bgcolor="white", plot_bgcolor="white",
    hovermode=False, showlegend=True,
    shapes=shapes, annotations=annotations,
    **layout)

fig.write_html("out.html", config={"displayModeBar": False},
               post_script="document.body.style.margin='0';document.body.style.overflow='hidden';")
